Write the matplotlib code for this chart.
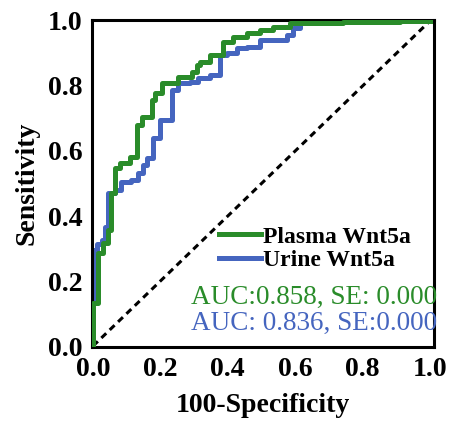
import numpy as np
import matplotlib.pyplot as plt

plt.rcParams['font.family'] = ['Liberation Serif', 'DejaVu Serif']

"""
    Data (read off the reference)
"""
# Plasma Wnt5a ROC corners (fpr, top tpr of each vertical step)
plasma_fpr = [0.0, 0.0, 0.015, 0.030, 0.045, 0.053, 0.065, 0.080, 0.110, 0.131, 0.145,
              0.175, 0.184, 0.205, 0.252, 0.294, 0.309, 0.318, 0.347, 0.386, 0.415,
              0.457, 0.496, 0.534, 0.585, 0.742, 0.911, 1.0]
plasma_tpr = [0.0, 0.132, 0.286, 0.317, 0.357, 0.471, 0.548, 0.563, 0.582, 0.680, 0.705,
              0.757, 0.778, 0.809, 0.828, 0.843, 0.865, 0.874, 0.895, 0.935, 0.951,
              0.963, 0.972, 0.982, 0.994, 0.997, 1.0, 1.0]

# Urine Wnt5a ROC corners
urine_fpr = [0.0, 0.0, 0.012, 0.027, 0.036, 0.045, 0.065, 0.083, 0.113, 0.134, 0.148,
             0.160, 0.178, 0.199, 0.234, 0.252, 0.288, 0.312, 0.347, 0.377, 0.398,
             0.427, 0.457, 0.496, 0.576, 0.593, 0.614, 0.638, 1.0]
urine_tpr = [0.0, 0.295, 0.314, 0.326, 0.366, 0.471, 0.480, 0.505, 0.511, 0.532, 0.557,
             0.578, 0.640, 0.695, 0.788, 0.809, 0.812, 0.825, 0.834, 0.895, 0.902,
             0.917, 0.920, 0.942, 0.957, 0.978, 0.994, 1.0, 1.0]

labels = ['Plasma Wnt5a', 'Urine Wnt5a']
auc_texts = ['AUC:0.858, SE: 0.000', 'AUC: 0.836, SE:0.000']
ticks = [0.0, 0.2, 0.4, 0.6, 0.8, 1.0]

green = '#2a8c2a'
blue = '#4565bf'

"""
    Plot
"""
fig = plt.figure(figsize=(4.52, 4.21), dpi=100)
ax = fig.add_axes([92 / 452, 1 - 347 / 421, 342 / 452, 327 / 421])

ax.plot([0, 1], [0, 1], color='black', linestyle=(0, (2.2, 1.6)), linewidth=2.2)
ax.plot(plasma_fpr, plasma_tpr, drawstyle='steps-post', color=green, linewidth=3.6,
        label=labels[0], zorder=3)
ax.plot(urine_fpr, urine_tpr, drawstyle='steps-post', color=blue, linewidth=3.6,
        label=labels[1], zorder=2)

ax.set_xlim(-0.003, 1.012)
ax.set_ylim(-0.003, 1.003)
ax.set_xticks(ticks)
ax.set_yticks(ticks)
ax.set_xticklabels(['%.1f' % t for t in ticks], fontsize=20, fontweight='bold')
ax.set_yticklabels(['%.1f' % t for t in ticks], fontsize=20, fontweight='bold')
ax.tick_params(length=0, pad=7)
for s in ax.spines.values():
    s.set_linewidth(2.2)

ax.set_xlabel('100-Specificity', fontsize=20, fontweight='bold', labelpad=8)
ax.set_ylabel('Sensitivity', fontsize=20, fontweight='bold', labelpad=6)

leg = ax.legend(loc='upper left', bbox_to_anchor=(0.372, 0.37), frameon=False,
                prop={'size': 17, 'weight': 'bold'}, handlelength=1.75,
                handletextpad=0.12, labelspacing=0.1, borderpad=0, borderaxespad=0)

ax.text(1.01, 0.153, auc_texts[0], color=green, fontsize=19.5, ha='right', va='center',
        transform=ax.transAxes)
ax.text(1.01, 0.073, auc_texts[1], color=blue, fontsize=19.5, ha='right', va='center',
        transform=ax.transAxes)

plt.savefig('out.png', dpi=100)
